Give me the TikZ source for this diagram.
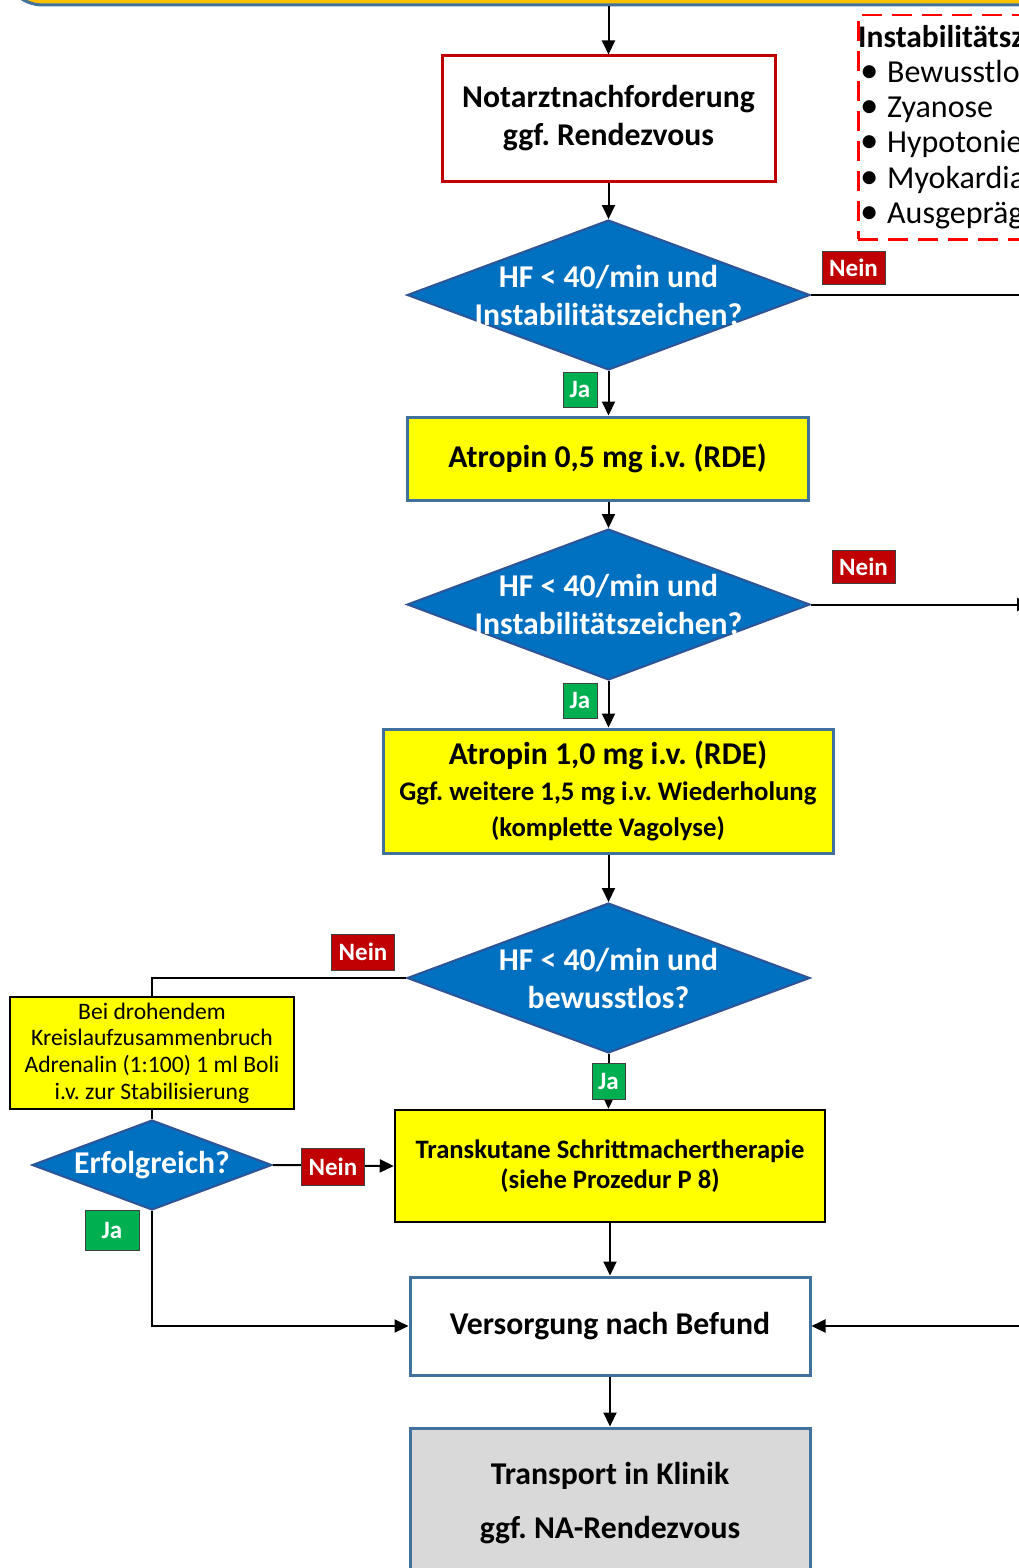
\documentclass[tikz,border=0pt]{standalone}
\usepackage{fontspec}
\setmainfont{Carlito}
\usetikzlibrary{shapes.geometric,arrows.meta}

\definecolor{hdrfill}{HTML}{FFC000}
\definecolor{steel}{HTML}{41719C}
\definecolor{diafill}{HTML}{0070C0}
\definecolor{diaedge}{HTML}{2F5597}
\definecolor{boxyellow}{HTML}{FFFF00}
\definecolor{darkred}{HTML}{C00000}
\definecolor{dashred}{HTML}{FF0000}
\definecolor{lightgrey}{HTML}{D9D9D9}
\definecolor{jagreen}{HTML}{00B050}

\newcommand{\fs}[2]{\fontsize{#1}{#2}\selectfont}
\newcommand{\bul}{\makebox[29pt][l]{\kern2pt\scalebox{1.15}{\textbullet}}}

\tikzset{
  x=1pt, y=-1pt,
  conn/.style={line width=2pt, draw=black},
  arr/.style={conn, -{Triangle[length=14pt,width=13pt]}},
  box/.style={rectangle, draw, line width=3pt, align=center, inner sep=0pt,
              font=\bfseries\fs{31.7}{38}},
  redbox/.style={box, draw=darkred, fill=white},
  yelbox/.style={box, draw=steel, fill=boxyellow},
  yelblack/.style={box, draw=black, line width=2.5pt, fill=boxyellow},
  whitebox/.style={box, draw=steel, fill=white},
  greybox/.style={box, draw=steel, fill=lightgrey},
  dia/.style={diamond, draw=diaedge, line width=2pt, fill=diafill, inner sep=0pt},
  dtext/.style={text=white, align=center, inner sep=0pt, font=\bfseries\fs{31.7}{38}},
  tag/.style={rectangle, draw=black!75, line width=1pt, text=white, inner sep=0pt,
              font=\bfseries\fs{25}{28}},
  nein/.style={tag, fill=darkred, minimum width=63, minimum height=33},
  ja/.style={tag, fill=jagreen, minimum width=34, minimum height=35},
}

\begin{document}
\frenchspacing
\begin{tikzpicture}
\useasboundingbox (0,0) rectangle (1019,1568);
\fill[white] (0,0) rectangle (1019,1568);
\clip (0,0) rectangle (1019,1568);

% header box (continues above)
\node[rectangle, rounded corners=40pt, draw=steel, line width=3pt, fill=hdrfill,
      minimum width=1200, minimum height=205, inner sep=0pt] (hdr) at (603,-97.5) {};

% list of instability signs
\node[rectangle, draw=dashred, line width=2.5pt, dash pattern=on 20pt off 10pt,
      minimum width=320, minimum height=224, anchor=north west] (inst) at (857,14) {};
\node[anchor=west, align=left, inner sep=0pt, font=\fs{32}{35.2}] (instlist) at (858,127)
  {{\bfseries\fs{31.5}{35.2}Instabilitätszeichen:}\\
   \bul Bewusstlosigkeit\\
   \bul Zyanose\\
   \bul Hypotonie\\
   \bul Myokardiale Ischämie\\
   \bul Ausgeprägte Herzinsuffizienz};

% main column
\node[redbox, minimum width=333, minimum height=125] (nef) at (608.5,118.5)
  {Notarztnachforderung\\ggf. Rendezvous};

\node[dia, minimum width=403, minimum height=150,
      label={[dtext]center:{HF < 40/min und\\Instabilitätszeichen?}}] (d1) at (608.5,295) {};

\node[yelbox, minimum width=401, minimum height=83] (at05) at (607.5,458.5)
  {Atropin 0,5 mg i.v. (RDE)};

\node[dia, minimum width=403, minimum height=151,
      label={[dtext]center:{HF < 40/min und\\Instabilitätszeichen?}}] (d2) at (608.5,604.5) {};

\node[yelbox, minimum width=450, minimum height=124, font=\bfseries\fs{26.8}{36}] (at10) at (608,791)
  {{\fs{31.7}{36}Atropin 1,0 mg i.v. (RDE)}\\Ggf. weitere 1,5 mg i.v. Wiederholung\\(komplette Vagolyse)};

\node[dia, minimum width=403, minimum height=150,
      label={[dtext]center:{HF < 40/min und\\bewusstlos?}}] (d3) at (608.5,978) {};

\node[yelblack, minimum width=284, minimum height=112, font=\fs{23.6}{26.7}] (adr) at (152,1053)
  {Bei drohendem\\Kreislaufzusammenbruch\\Adrenalin (1:100) 1 ml Boli\\i.v. zur Stabilisierung};

\node[dia, minimum width=240, minimum height=90,
      label={[dtext]center:{Erfolgreich?}}] (d4) at (152,1165) {};

\node[yelblack, minimum width=430, minimum height=112, font=\bfseries\fs{26.6}{30}] (tks) at (610,1166)
  {Transkutane Schrittmachertherapie\\(siehe Prozedur P 8)};

\node[whitebox, minimum width=400, minimum height=98] (vers) at (610,1326)
  {Versorgung nach Befund};

\node[greybox, minimum width=400, minimum height=150, font=\bfseries\fs{31.7}{54}] (trans) at (610,1503)
  {Transport in Klinik\\ggf. NA-Rendezvous};

% loose ends leaving to the right
\coordinate (off1) at (1035,295);
\coordinate (off2) at (1031,604.5);
\coordinate (off3) at (1035,1326);

% connectors
\draw[arr] (nef.north |- hdr.south) -- (nef.north);
\draw[arr] (nef.south) -- (d1.north);
\draw[conn] (d1.east) -- (off1);
\draw[arr] (d1.south) -- (at05.north -| d1.south);
\draw[arr] (at05.south -| d2.north) -- (d2.north);
\draw[arr] (d2.east) -- (off2);
\draw[arr] (d2.south) -- (at10.north -| d2.south);
\draw[arr] (at10.south -| d3.north) -- (d3.north);
\draw[conn] (d3.west) -| (adr.north);
\draw[conn] (adr.south) -- (d4.north);
\draw[arr] (d4.east) -- (tks.west);
\draw[arr] (d4.south) |- (vers.west);
\draw[arr] (d3.south) -- (tks.north -| d3.south);
\draw[arr] (tks.south) -- (vers.north);
\draw[arr] (off3) -- (vers.east);
\draw[arr] (vers.south) -- (trans.north);

% branch tags
\node[nein] (n1) at (853.5,268) {Nein};
\node[nein] (n2) at (863.5,567) {Nein};
\node[nein, minimum height=36] (n3) at (363,952) {Nein};
\node[nein, minimum height=37] (n4) at (333,1166.5) {Nein};
\node[ja] (j1) at (580,389.5) {Ja};
\node[ja] (j2) at (580,700.5) {Ja};
\node[ja, minimum width=33, minimum height=36] (j3) at (608.5,1081) {Ja};
\node[ja, minimum width=54, minimum height=40] (j4) at (112,1230) {Ja};
\end{tikzpicture}
\end{document}
